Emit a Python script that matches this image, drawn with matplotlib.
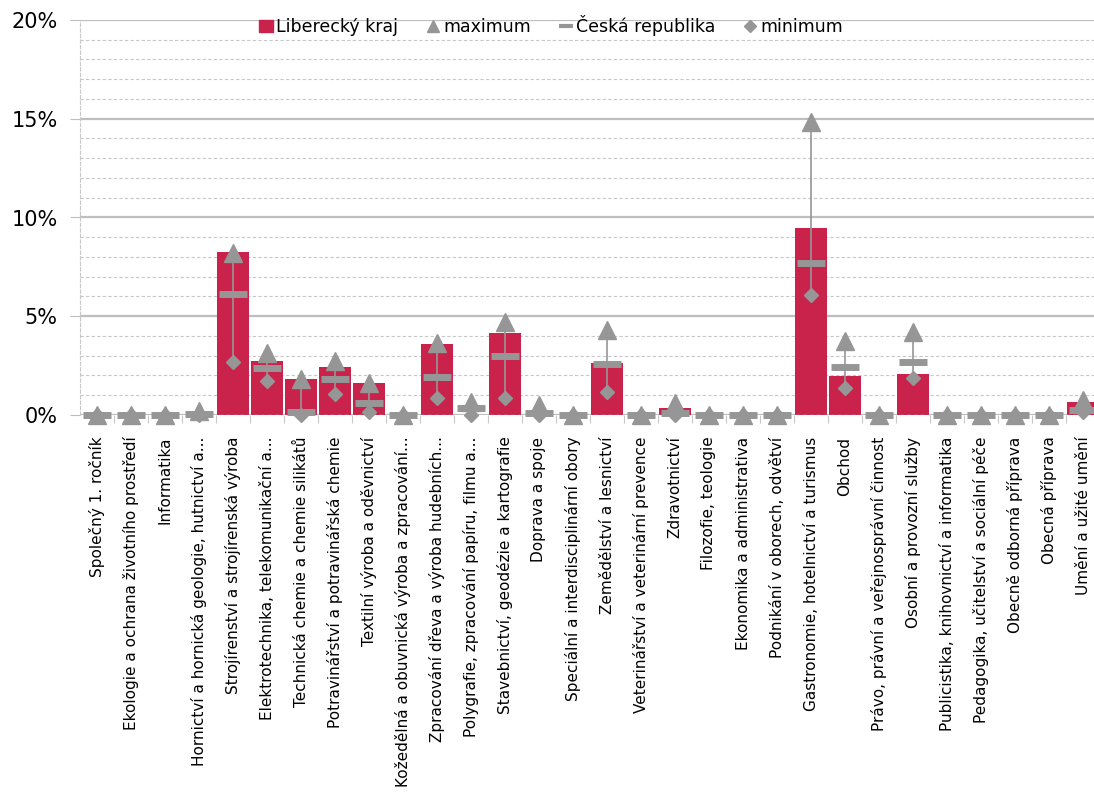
import matplotlib.pyplot as plt
from matplotlib.lines import Line2D
from matplotlib.patches import Patch
from matplotlib.ticker import MultipleLocator, FuncFormatter
import numpy as np

obory = [
    "Společný 1. ročník",
    "Ekologie a ochrana životního prostředí",
    "Informatika",
    "Hornictví a hornická geologie, hutnictví a...",
    "Strojírenství a strojírenská výroba",
    "Elektrotechnika, telekomunikační a...",
    "Technická chemie a chemie silikátů",
    "Potravinářství a potravinářská chemie",
    "Textilní výroba a oděvnictví",
    "Kožedělná a obuvnická výroba a zpracování...",
    "Zpracování dřeva a výroba hudebních...",
    "Polygrafie, zpracování papíru, filmu a...",
    "Stavebnictví, geodézie a kartografie",
    "Doprava a spoje",
    "Speciální a interdisciplinární obory",
    "Zemědělství a lesnictví",
    "Veterinářství a veterinární prevence",
    "Zdravotnictví",
    "Filozofie, teologie",
    "Ekonomika a administrativa",
    "Podnikání v oborech, odvětví",
    "Gastronomie, hotelnictví a turismus",
    "Obchod",
    "Právo, právní a veřejnosprávní činnost",
    "Osobní a provozní služby",
    "Publicistika, knihovnictví a informatika",
    "Pedagogika, učitelství a sociální péče",
    "Obecně odborná příprava",
    "Obecná příprava",
    "Umění a užité umění",
]

# podíly v %
liberecky = [0, 0, 0, 0, 8.24, 2.72, 1.82, 2.43, 1.62, 0, 3.61, 0, 4.17, 0, 0,
             2.62, 0, 0.34, 0, 0, 0, 9.48, 1.97, 0, 2.08, 0, 0, 0, 0, 0.67]
maximum = [0, 0, 0, 0.2, 8.2, 3.15, 1.8, 2.73, 1.6, 0, 3.63, 0.67, 4.72, 0.5, 0,
           4.3, 0, 0.6, 0, 0, 0, 14.85, 3.76, 0, 4.22, 0, 0, 0, 0, 0.76]
cr = [0, 0, 0, 0.05, 6.13, 2.4, 0.17, 1.82, 0.59, 0, 1.94, 0.34, 3.0, 0.1, 0,
      2.57, 0, 0.1, 0, 0, 0, 7.71, 2.45, 0, 2.67, 0, 0, 0, 0, 0.25]
minimum = [0, 0, 0, 0, 2.7, 1.72, 0, 1.06, 0.17, 0, 0.84, 0, 0.84, 0, 0,
           1.18, 0, 0, 0, 0, 0, 6.06, 1.35, 0, 1.86, 0, 0, 0, 0, 0.15]

cervena = "#C9224B"
seda = "#969696"

fig = plt.figure(figsize=(10.94, 7.96), dpi=100)
ax = fig.add_axes([80 / 1094, 1 - 415 / 796, 1020 / 1094, 395 / 796])

x = np.arange(len(obory))
ax.bar(x, liberecky, width=0.94, color=cervena, zorder=2)

# spojnice min - max
ax.vlines(x, minimum, maximum, color=seda, lw=1.2, zorder=3, clip_on=False)
ax.plot(x, maximum, ls="none", marker="^", ms=12.5, color=seda, zorder=4, clip_on=False)
ax.plot(x, cr, ls="none", marker="_", ms=19.5, mew=5, color=seda, zorder=5, clip_on=False)
ax.plot(x, minimum, ls="none", marker="D", ms=7, color=seda, zorder=6, clip_on=False)

ax.set_xlim(-0.5, len(obory) - 0.5)
ax.set_ylim(0, 20)
ax.yaxis.set_major_locator(MultipleLocator(5))
ax.yaxis.set_minor_locator(MultipleLocator(1))
ax.yaxis.set_major_formatter(FuncFormatter(lambda v, p: f"{v:.0f}%"))
ax.grid(axis="y", which="major", color="#BEBEBE", lw=1.6, zorder=0)
ax.grid(axis="y", which="minor", color="#C8C8C8", lw=0.8, ls=(0, (3, 2)), zorder=0)
ax.axhline(0, color="#BEBEBE", lw=1, ls=(0, (3, 2)), zorder=2.5)

for s in ["top", "right", "bottom"]:
    ax.spines[s].set_visible(False)
ax.spines["left"].set_color("#C8C8C8")
ax.spines["left"].set_linewidth(0.8)
ax.spines["left"].set_linestyle((0, (3, 2)))

ax.tick_params(axis="y", which="major", length=7, color="#BEBEBE", labelsize=15, pad=9)
ax.tick_params(axis="y", which="minor", length=0)
ax.set_xticks(x)
ax.set_xticklabels(obory, rotation=90, fontsize=11)
ax.set_xticks(x[:-1] + 0.5, minor=True)
ax.tick_params(axis="x", which="major", length=0, pad=15.5)
ax.tick_params(axis="x", which="minor", length=6, color="#C8C8C8", width=0.8)

handles = [
    Patch(color=cervena),
    Line2D([], [], ls="none", marker="^", ms=9, color=seda),
    Line2D([], [], ls="none", marker="_", ms=10, mew=3, color=seda),
    Line2D([], [], ls="none", marker="D", ms=6, color=seda),
]
labels = ["Liberecký kraj", "maximum", "Česká republika", "minimum"]
leg = ax.legend(handles, labels, ncol=4, loc="upper center", bbox_to_anchor=(0.462, 1.053),
                frameon=False, fontsize=12.5, handlelength=0.8, handletextpad=0.2,
                columnspacing=1.6)

fig.savefig("out.png", dpi=100)
